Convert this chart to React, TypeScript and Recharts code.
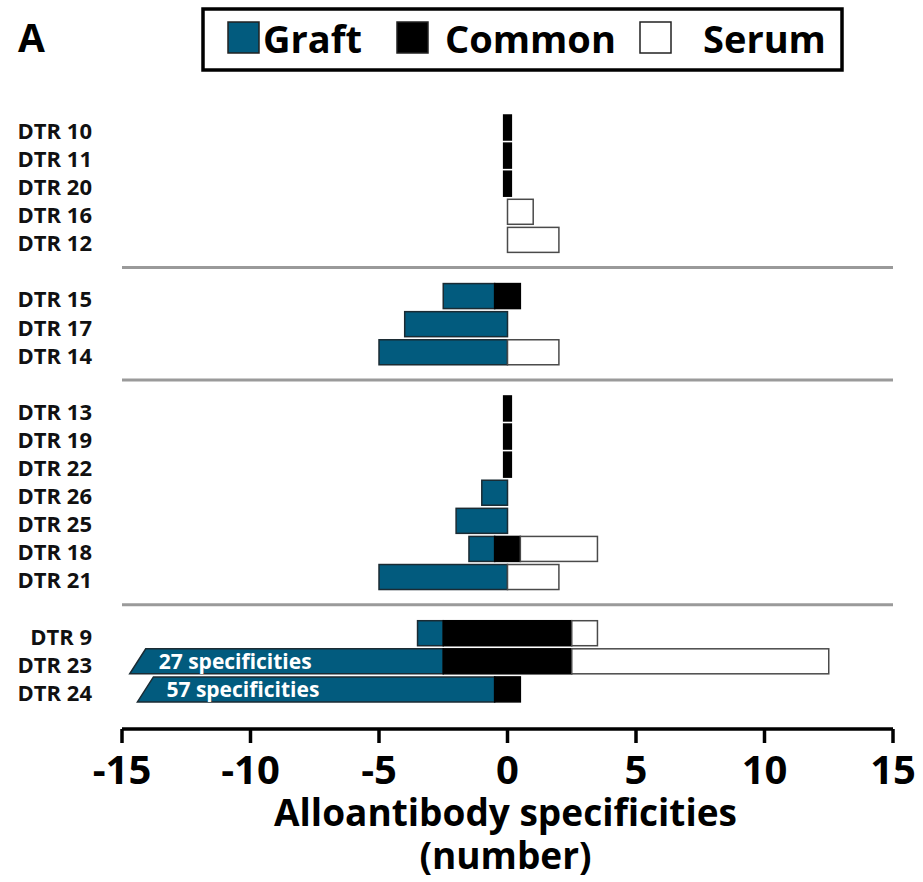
import React from 'react';
import { BarChart, Bar, XAxis, YAxis, ReferenceLine, Legend } from 'recharts';

// ---- data ----
const patients = [
  'DTR 10', 'DTR 11', 'DTR 20', 'DTR 16', 'DTR 12', 'gap1',
  'DTR 15', 'DTR 17', 'DTR 14', 'gap2',
  'DTR 13', 'DTR 19', 'DTR 22', 'DTR 26', 'DTR 25', 'DTR 18', 'DTR 21', 'gap3',
  'DTR 9', 'DTR 23', 'DTR 24',
];
const graft = [0, 0, 0, 0, 0, null, 2, 4, 5, null, 0, 0, 0, 1, 2, 1, 5, null, 1, 27, 57];
const common = [0.3, 0.3, 0.3, 0, 0, null, 1, 0, 0, null, 0.3, 0.3, 0.3, 0, 0, 1, 0, null, 5, 5, 1];
const serum = [0, 0, 0, 1, 2, null, 0, 0, 2, null, 0, 0, 0, 0, 0, 3, 2, null, 1, 10, 0];
// graft bars that run off the axis are cut (broken) at these values and labelled
const graftBreakAt = [null, null, null, null, null, null, null, null, null, null, null, null, null, null, null, null, null, null, null, -14.7, -14.4];
const graftLabel = [null, null, null, null, null, null, null, null, null, null, null, null, null, null, null, null, null, null, null, '27 specificities', '57 specificities'];
const groupSeparators = ['gap1', 'gap2', 'gap3'];
const xTicks = [-15, -10, -5, 0, 5, 10, 15];
const seriesNames = ['Graft', 'Common', 'Serum'];

const GRAFT = '#025b7e';
const FONT = "'Open Sans', 'DejaVu Sans', sans-serif";

const rows = patients.map((name, i) => {
  const g = graft[i];
  const c = common[i];
  const s = serum[i];
  if (g == null || c == null || s == null) return { name };
  const lo = -c / 2;
  const hi = c / 2;
  const brk = graftBreakAt[i];
  const gStart = brk != null ? Math.max(lo - g, brk) : lo - g;
  return {
    name,
    graftRange: g > 0 ? [gStart, lo] : null,
    commonRange: c > 0 ? [lo, hi] : null,
    serumRange: s > 0 ? [hi, hi + s] : null,
    breakLabel: graftLabel[i],
  };
});

const GraftShape = (props: any) => {
  const { x, y, width, height, payload } = props;
  if (!width || width <= 0 || !height) return null;
  if (payload && payload.breakLabel) {
    const slant = 16;
    return (
      <g>
        <polygon
          points={`${x + slant},${y} ${x + width},${y} ${x + width},${y + height} ${x},${y + height}`}
          fill={GRAFT}
          stroke="#1b2b33"
          strokeWidth={1.5}
        />
        <text
          x={x + 29}
          y={y + height / 2}
          dy="0.36em"
          fill="#fff"
          fontSize={21}
          fontWeight={700}
          fontFamily={FONT}
        >
          {payload.breakLabel}
        </text>
      </g>
    );
  }
  return <rect x={x} y={y} width={width} height={height} fill={GRAFT} stroke="#1b2b33" strokeWidth={1.5} />;
};

const PlainShape = (fill: string, stroke: string) => (props: any) => {
  const { x, y, width, height } = props;
  if (!width || width <= 0 || !height) return null;
  return <rect x={x} y={y} width={width} height={height} fill={fill} stroke={stroke} strokeWidth={1.5} />;
};

const RowTick = (props: any) => {
  const { x, y, payload } = props;
  const v = payload && payload.value;
  if (!v || String(v).startsWith('gap')) return null;
  return (
    <text x={x} y={y + 4} dy="0.355em" textAnchor="end" fontSize={22} fontWeight={700} fontFamily={FONT} fill="#111">
      {v}
    </text>
  );
};

const AxisTitle = (props: any) => {
  const vb = props.viewBox || { x: 122, y: 729, width: 771 };
  const cx = vb.x + vb.width / 2 - 2;
  return (
    <g>
      <text x={cx} y={vb.y + 97} textAnchor="middle" fontSize={37} fontWeight={700} fontFamily={FONT} fill="#000">
        Alloantibody specificities
      </text>
      <text x={cx} y={vb.y + 140} textAnchor="middle" fontSize={37} fontWeight={700} fontFamily={FONT} fill="#000">
        (number)
      </text>
    </g>
  );
};

const legendSlots = [
  { sq: 228, tx: 263 },
  { sq: 397, tx: 445 },
  { sq: 640, tx: 703 },
];
const legendFill: Record<string, string> = { Graft: GRAFT, Common: '#000', Serum: '#fff' };

const renderLegend = (props: any) => {
  const raw = props && props.payload && props.payload.length ? props.payload : seriesNames.map((n) => ({ value: n }));
  const payload = [...raw].sort(
    (a: any, b: any) => seriesNames.indexOf(String(a.value)) - seriesNames.indexOf(String(b.value)),
  );
  return (
    <svg width={923} height={80} style={{ display: 'block' }}>
      <rect x={203} y={9} width={639} height={61} fill="#fff" stroke="#000" strokeWidth={3.5} />
      {payload.map((p: any, i: number) => {
        const slot = legendSlots[i] || legendSlots[0];
        const name = String(p.value);
        return (
          <g key={name}>
            <rect x={slot.sq} y={22} width={31} height={31} fill={legendFill[name] || p.color} stroke="#222" strokeWidth={1.5} />
            <text x={slot.tx} y={53} fontSize={38} fontWeight={700} fontFamily={FONT} fill="#000">
              {name}
            </text>
          </g>
        );
      })}
    </svg>
  );
};

export default function App() {
  return (
    <div style={{ position: 'absolute', left: 0, top: 0, width: 923, height: 882, background: '#fff' }}>
      <BarChart
        width={923}
        height={882}
        data={rows}
        layout="vertical"
        margin={{ top: 104, right: 30, bottom: 3, left: 0 }}
        barSize={25}
        barGap={-25}
      >
        <XAxis
          xAxisId="top"
          orientation="top"
          type="number"
          domain={[-15, 15]}
          ticks={xTicks}
          tick={false}
          tickLine={false}
          height={0}
          axisLine={{ stroke: '#9a9a9a', strokeWidth: 3 }}
        />
        <XAxis
          type="number"
          domain={[-15, 15]}
          ticks={xTicks}
          interval={0}
          allowDataOverflow
          height={150}
          axisLine={{ stroke: '#000', strokeWidth: 3.5 }}
          tickLine={{ stroke: '#000', strokeWidth: 3.5 }}
          tickSize={14}
          tickMargin={13}
          tick={{ fontSize: 40, fontWeight: 700, fill: '#000', fontFamily: FONT }}
          label={{ content: AxisTitle }}
        />
        <YAxis
          type="category"
          dataKey="name"
          width={122}
          interval={0}
          axisLine={false}
          tickLine={false}
          tickSize={0}
          tickMargin={30}
          padding={{ top: 9, bottom: 26 }}
          tick={<RowTick />}
        />
        {groupSeparators.map((g) => (
          <ReferenceLine key={g} y={g} position="middle" stroke="#9a9a9a" strokeWidth={3} />
        ))}
        <Bar dataKey="graftRange" name="Graft" fill={GRAFT} isAnimationActive={false} shape={GraftShape} />
        <Bar dataKey="commonRange" name="Common" fill="#000" isAnimationActive={false} shape={PlainShape('#000', '#000')} />
        <Bar dataKey="serumRange" name="Serum" fill="#fff" stroke="#444" isAnimationActive={false} shape={PlainShape('#fff', '#4a4a4a')} />
        <Legend
          layout="horizontal"
          verticalAlign="middle"
          align="center"
          wrapperStyle={{ position: 'absolute', left: 0, top: 0, width: 923, height: 80 }}
          content={renderLegend}
        />
      </BarChart>
      <div
        style={{
          position: 'absolute',
          left: 18,
          top: 17,
          fontFamily: FONT,
          fontWeight: 700,
          fontSize: 39,
          lineHeight: 1,
          color: '#000',
        }}
      >
        A
      </div>
    </div>
  );
}
